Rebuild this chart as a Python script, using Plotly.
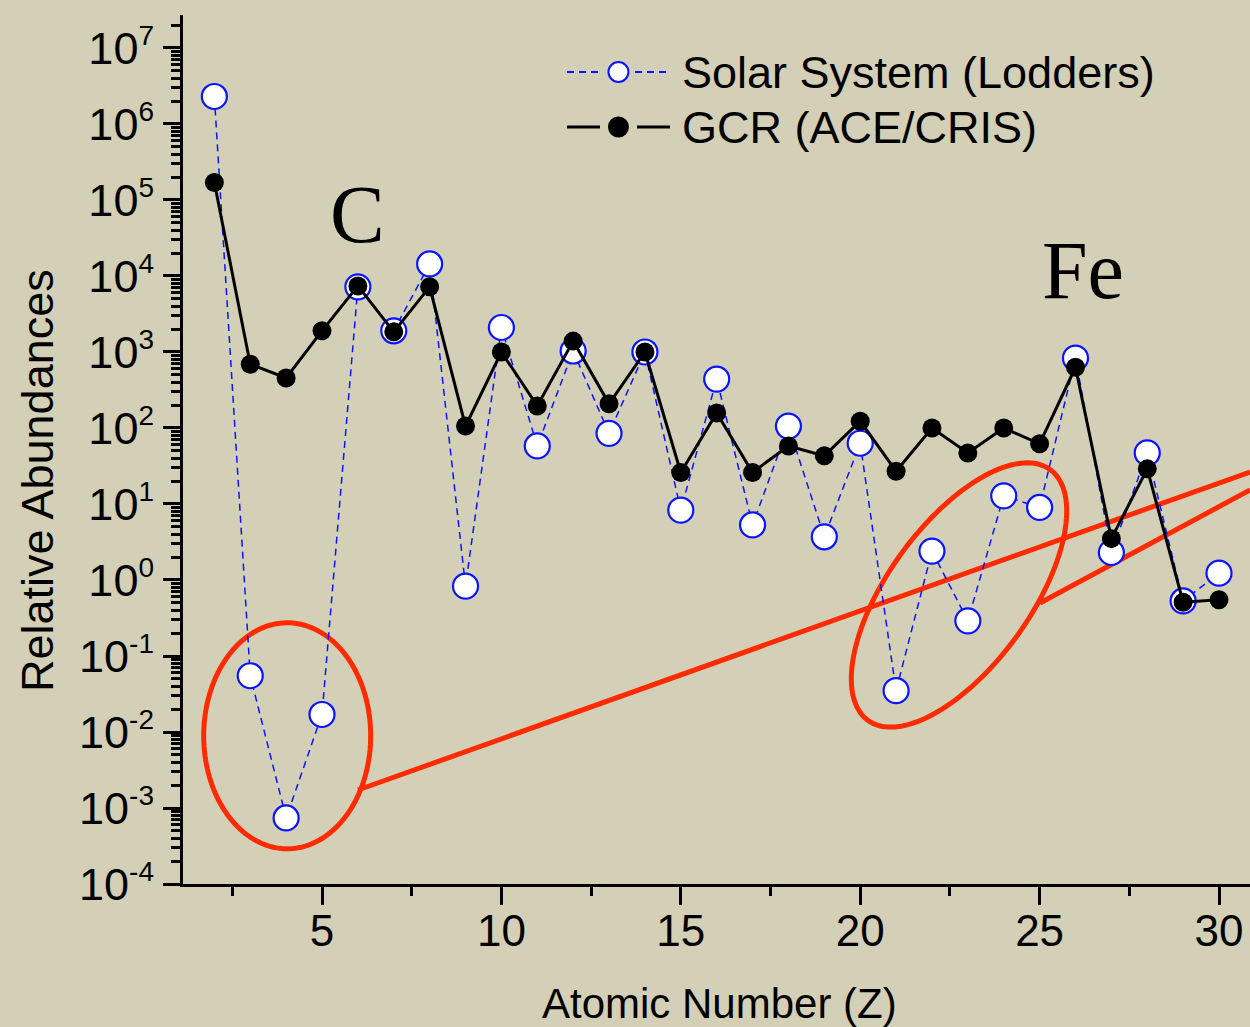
import numpy as np
import plotly.graph_objects as go

# Elemental abundances vs atomic number (Si = 1000 normalisation)
Z = list(range(2, 31))
solar_system = [2.3e6, 0.055, 7.4e-4, 0.017, 7200, 1900, 14400, 0.83, 2100, 58,
                1030, 85, 1000, 8.3, 440, 5.3, 106, 3.7, 63, 0.035,
                2.4, 0.29, 12.8, 9.0, 830, 2.3, 47, 0.53, 1.23]
gcr = [1.7e5, 690, 455, 1900, 7400, 1840, 7200, 106, 1000, 195,
       1390, 208, 1000, 26, 158, 26, 58, 43, 123, 27,
       100, 47, 100, 62, 630, 3.5, 29, 0.51, 0.55]

x_major = [5, 10, 15, 20, 25, 30]
x_minor = [2.5, 7.5, 12.5, 17.5, 22.5, 27.5]
y_exponents = list(range(-4, 8))
y_major = [10.0 ** e for e in y_exponents]
y_ticktext = [f"10<sup><span style='font-size:28px'>{e}</span></sup>" for e in y_exponents]
y_minor = [m * 10.0 ** e for e in range(-4, 7) for m in range(2, 10)] + [2e7]

X_RANGE = [1.126, 30.864]
Y_RANGE = [-4.0, 7.434]   # log10 units
PLOT_W, PLOT_H = 1067, 869

BG = "#d3d0b7"
RED = "#ff2a00"
BLUE = "#0a14ff"
SANS = "Liberation Sans, Arial, sans-serif"
SERIF = "Liberation Serif, Times New Roman, serif"


def to_paper(z, logv):
    return ((z - X_RANGE[0]) / (X_RANGE[1] - X_RANGE[0]),
            (logv - Y_RANGE[0]) / (Y_RANGE[1] - Y_RANGE[0]))


def ellipse_path(z, logv, a_px, b_px, angle_deg, n=160):
    cx, cy = to_paper(z, logv)
    t = np.linspace(0, 2 * np.pi, n)
    th = np.radians(angle_deg)
    dx = a_px * np.cos(t) * np.cos(th) - b_px * np.sin(t) * np.sin(th)
    dy = a_px * np.cos(t) * np.sin(th) + b_px * np.sin(t) * np.cos(th)
    xs = cx + dx / PLOT_W
    ys = cy + dy / PLOT_H
    return "M" + " L".join(f"{x:.5f},{y:.5f}" for x, y in zip(xs, ys)) + " Z"


fig = go.Figure()

fig.add_trace(go.Scatter(
    x=Z, y=solar_system, mode="lines+markers", name="Solar System (Lodders)",
    line=dict(color=BLUE, width=1.5, dash="7px,5px"),
    marker=dict(symbol="circle", size=25, color="white",
                line=dict(color=BLUE, width=2.2)),
    showlegend=False,
))
fig.add_trace(go.Scatter(
    x=Z, y=gcr, mode="lines+markers", name="GCR (ACE/CRIS)",
    line=dict(color="black", width=3),
    marker=dict(symbol="circle", size=19, color="black"),
    showlegend=False,
))

shapes = []
# highlight ellipses (Li-Be-B and sub-iron groups) with connector lines
for z, lv, a, b, ang in [(4.03, -2.05, 83.5, 113, 0), (22.754, -0.197, 155, 71, 54)]:
    shapes.append(dict(type="path", path=ellipse_path(z, lv, a, b, ang),
                       xref="paper", yref="paper", line=dict(color=RED, width=5),
                       layer="below"))
for (z0, l0), (z1, l1) in [((6.003, -2.763), (30.864, 1.421)),
                           ((25.01, -0.303), (30.864, 1.184))]:
    p0, p1 = to_paper(z0, l0), to_paper(z1, l1)
    shapes.append(dict(type="line", xref="paper", yref="paper",
                       x0=p0[0], y0=p0[1], x1=p1[0], y1=p1[1],
                       line=dict(color=RED, width=5), layer="below"))

# legend drawn by hand: long line samples broken around the symbol
legend_rows = [
    ("Solar System (Lodders)", 0.9344, dict(color=BLUE, width=2, dash="7px,5px"),
     "white", BLUE, 10, (0.3599, 0.3931), (0.4236, 0.4564)),
    ("GCR (ACE/CRIS)", 0.8711, dict(color="black", width=3),
     "black", "black", 9.5, (0.3599, 0.3908), (0.4255, 0.4564)),
]
annotations = []
for label, ly, lstyle, fill, edge, r, seg_a, seg_b in legend_rows:
    for xa, xb in (seg_a, seg_b):
        shapes.append(dict(type="line", xref="paper", yref="paper",
                           x0=xa, x1=xb, y0=ly, y1=ly, line=lstyle))
    shapes.append(dict(type="circle", xref="paper", yref="paper",
                       xsizemode="pixel", ysizemode="pixel",
                       xanchor=0.4081, yanchor=ly, x0=-r, x1=r, y0=-r, y1=r,
                       fillcolor=fill, line=dict(color=edge, width=2)))
    annotations.append(dict(text=label, xref="paper", yref="paper", x=0.4655, y=ly,
                            xanchor="left", yanchor="middle", showarrow=False,
                            font=dict(family=SANS, size=45, color="black")))

annotations += [
    dict(text="C", x=6.0, y=4.81, xref="x", yref="y", showarrow=False,
         xanchor="center", yanchor="middle",
         font=dict(family=SERIF, size=82, color="black")),
    dict(text="Fe", x=26.21, y=4.07, xref="x", yref="y", showarrow=False,
         xanchor="center", yanchor="middle",
         font=dict(family=SERIF, size=82, color="black")),
    dict(text="Relative Abundances", textangle=-90, xref="paper", yref="paper",
         x=-0.1368, y=0.4637, xanchor="center", yanchor="middle", showarrow=False,
         font=dict(family=SANS, size=45, color="black")),
    dict(text="Atomic Number (Z)", xref="paper", yref="paper",
         x=0.503, y=-0.137, xanchor="center", yanchor="middle", showarrow=False,
         font=dict(family=SANS, size=42, color="black")),
]

axis_common = dict(showline=True, linecolor="black", linewidth=3, showgrid=False,
                   zeroline=False, tickcolor="black", tickwidth=3)

fig.update_layout(
    width=1250, height=1027,
    margin=dict(l=183, r=0, t=15, b=143),
    paper_bgcolor=BG, plot_bgcolor=BG,
    shapes=shapes, annotations=annotations,
    xaxis=dict(range=X_RANGE, tickmode="array", tickvals=x_major, ticks="outside",
               ticklen=18, ticklabelstandoff=-12,
               tickfont=dict(family=SANS, size=44, color="black"),
               minor=dict(tickmode="array", tickvals=x_minor, ticks="outside",
                          ticklen=9, tickwidth=3, tickcolor="black"),
               **axis_common),
    xaxis2=dict(range=X_RANGE, overlaying="x", side="top", anchor="y",
                tickmode="array", tickvals=x_major, ticks="inside", ticklen=18,
                showticklabels=False,
                minor=dict(tickmode="array", tickvals=x_minor, ticks="inside",
                           ticklen=9, tickwidth=3, tickcolor="black"),
                **axis_common),
    yaxis=dict(type="log", range=Y_RANGE, tickmode="array", tickvals=y_major,
               ticktext=y_ticktext, ticks="outside", ticklen=17,
               ticklabelstandoff=0,
               tickfont=dict(family=SANS, size=45, color="black"),
               minor=dict(tickmode="array", tickvals=y_minor, ticks="outside",
                          ticklen=9, tickwidth=2.5, tickcolor="black"),
               **axis_common),
    yaxis2=dict(type="log", range=Y_RANGE, overlaying="y", side="right", anchor="x",
                tickmode="array", tickvals=y_major, ticks="inside", ticklen=17,
                showticklabels=False,
                minor=dict(tickmode="array", tickvals=y_minor, ticks="inside",
                           ticklen=9, tickwidth=2.5, tickcolor="black"),
                **axis_common),
)

fig.write_html("out.html")
